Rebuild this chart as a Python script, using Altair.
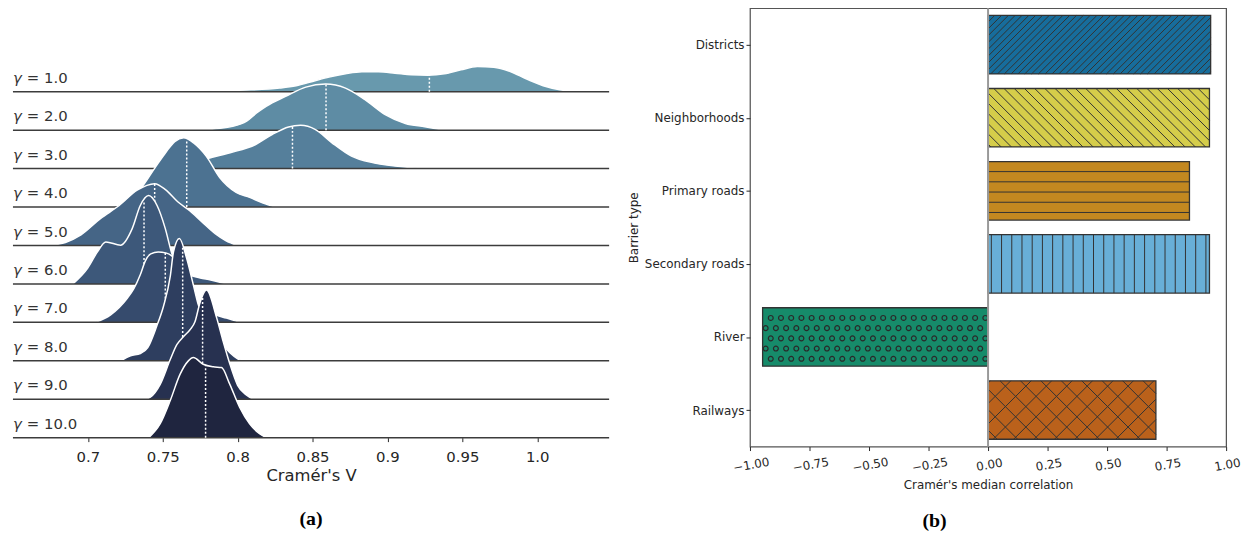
import json
import numpy as np
import pandas as pd
import altair as alt

# ---------------- data: panel (a) ridgeline ----------------
GAMMAS = [1.0, 2.0, 3.0, 4.0, 5.0, 6.0, 7.0, 8.0, 9.0, 10.0]

V1 = [0.765, 0.784, 0.806, 0.828, 0.839, 0.850, 0.861, 0.872, 0.883, 0.894, 0.905,
      0.916, 0.927, 0.938, 0.949, 0.960, 0.971, 0.982, 0.993, 1.004, 1.015, 1.027]
D1 = [0.0, 1.0, 1.7, 3.7, 6.0, 10.3, 14.7, 18.0, 20.0, 20.0, 18.7,
      17.0, 16.7, 18.0, 22.0, 25.3, 24.7, 20.3, 12.7, 6.0, 2.0, 0.0]

V2 = [0.770, 0.783, 0.795, 0.806, 0.8124, 0.819, 0.832, 0.8455, 0.8587, 0.872, 0.885,
      0.8985, 0.912, 0.925, 0.938]
D2 = [0.0, 1.0, 3.3, 9.0, 17.0, 24.0, 34.0, 43.4, 46.4, 42.4, 30.7,
      15.7, 6.7, 3.4, 0.0]

V3 = [0.750, 0.765, 0.782, 0.795, 0.812, 0.823, 0.834, 0.842, 0.852, 0.863, 0.876,
      0.890, 0.905, 0.925]
D3 = [0.0, 5.0, 11.0, 16.0, 24.3, 34.3, 42.0, 43.6, 39.3, 26.0, 12.6,
      6.0, 2.6, 0.0]

V4 = [0.715, 0.725, 0.735, 0.745, 0.752, 0.758, 0.764, 0.771, 0.779, 0.788, 0.799,
      0.808, 0.817, 0.825]
D4 = [0.0, 5.0, 18.0, 40.0, 55.0, 66.0, 69.7, 64.0, 51.3, 29.7, 14.7,
      9.7, 4.0, 0.0]

V5 = [0.675, 0.685, 0.6954, 0.7086, 0.7207, 0.7329, 0.7446, 0.752, 0.760, 0.768, 0.776,
      0.785, 0.792, 0.800]
D5 = [0.0, 3.0, 10.7, 27.3, 40.0, 55.7, 62.3, 56.0, 44.0, 35.0, 24.0,
      12.0, 5.0, 0.0]

V6 = [0.690, 0.6998, 0.7064, 0.712, 0.7219, 0.7296, 0.735, 0.7406, 0.7462, 0.7517, 0.756,
      0.762, 0.768, 0.775, 0.782, 0.790, 0.795]
D6 = [0.0, 15.7, 32.3, 42.3, 39.0, 55.7, 79.0, 89.0, 79.0, 55.7, 31.0,
      14.0, 9.0, 6.0, 4.0, 1.0, 0.0]

V7 = [0.705, 0.7152, 0.7263, 0.7307, 0.735, 0.7384, 0.742, 0.747, 0.752, 0.756, 0.760,
      0.765, 0.770, 0.775, 0.779, 0.786, 0.7925, 0.8013]
D7 = [0.0, 7.6, 24.3, 34.0, 48.0, 62.0, 69.0, 71.0, 70.0, 67.0, 60.0,
      45.0, 28.0, 17.0, 11.0, 7.0, 4.3, 0.0]

V8 = [0.722, 0.7285, 0.735, 0.740, 0.746, 0.7505, 0.755, 0.7572, 0.7611, 0.766, 0.7704,
      0.7737, 0.778, 0.782, 0.786, 0.790, 0.795, 0.800, 0.803]
D8 = [0.0, 5.0, 7.3, 13.3, 35.0, 55.0, 85.0, 110.0, 123.3, 103.0, 76.6,
      56.6, 40.0, 30.0, 22.0, 16.0, 8.0, 2.0, 0.0]

V9 = [0.739, 0.7417, 0.7483, 0.755, 0.7594, 0.7638, 0.7682, 0.7715, 0.7748, 0.7792, 0.786,
      0.790, 0.7947, 0.800, 0.806, 0.810]
D9 = [0.0, 2.0, 15.0, 40.0, 55.0, 63.0, 70.0, 78.0, 97.0, 110.0, 82.0,
      60.0, 36.0, 14.0, 4.0, 0.0]

V10 = [0.7406, 0.7483, 0.755, 0.7616, 0.7671, 0.7704, 0.777, 0.7837, 0.7892, 0.7947, 0.8013,
       0.808, 0.8146, 0.819]
D10 = [0.0, 14.0, 37.4, 64.0, 77.4, 80.7, 74.0, 71.4, 70.7, 54.0, 30.7,
       14.0, 4.0, 0.0]

MEDIANS = [0.928, 0.859, 0.8366, 0.766, 0.7446, 0.7375, 0.7517, 0.7633, 0.7766, 0.7786]
X_TICKS_A = [0.7, 0.75, 0.8, 0.85, 0.9, 0.95, 1.0]

# ---------------- data: panel (b) bars ----------------
BARRIERS = ["Districts", "Neighborhoods", "Primary roads", "Secondary roads", "River", "Railways"]
CORR = [0.935, 0.93, 0.846, 0.93, -0.947, 0.705]
HATCHES = ["///", "\\\\", "-", "|", "o", "x"]
BAR_COLORS = ["#176d9c", "#d5cd4a", "#c38820", "#68afd7", "#168b6a", "#ba611b"]
X_TICKS_B = [-1.0, -0.75, -0.5, -0.25, 0.0, 0.25, 0.5, 0.75, 1.0]

FONT = "DejaVu Sans"
TXT = "#262626"


def cubehelix_hex(x, start=0.0, rot=-0.25, hue=0.8):
    a = hue * x * (1 - x) / 2
    phi = 2 * np.pi * (start / 3 + rot * x)
    c, s = np.cos(phi), np.sin(phi)
    r = x + a * (-0.14861 * c + 1.78277 * s)
    g = x + a * (-0.29227 * c - 0.90649 * s)
    b = x + a * (1.97294 * c)
    return "#" + "".join("%02x" % int(round(255 * min(1, max(0, t)))) for t in (r, g, b))


RIDGE_COLORS = [cubehelix_hex(t) for t in np.linspace(0.55, 0.15, len(GAMMAS))]

# ---------------- panel (a) ----------------
W_L, H_L = 601, 433
X_DOM = [0.65, 1.048]
STEP = 38.75

xs = alt.Scale(domain=X_DOM, nice=False, zero=False)
ys = alt.Scale(domain=[0, H_L], nice=False, zero=False)
x_axis_a = alt.Axis(values=X_TICKS_A,
                    labelExpr="datum.value == 1 ? '1.0' : format(datum.value, '.2~f')",
                    domain=False, grid=False, ticks=True, tickSize=4, tickColor=TXT,
                    labelFont=FONT, labelFontSize=15, labelColor=TXT, labelPadding=8,
                    labelFlush=False, labelOverlap=False,
                    title="Cramér's V", titleFont=FONT, titleFontSize=16.5,
                    titleFontWeight="normal", titleColor=TXT, titlePadding=3)


def XA(f):
    return alt.X(f, type="quantitative", scale=xs, axis=x_axis_a)


def YA(f):
    return alt.Y(f, type="quantitative", scale=ys, axis=None)


curves = [(V1, D1), (V2, D2), (V3, D3), (V4, D4), (V5, D5),
          (V6, D6), (V7, D7), (V8, D8), (V9, D9), (V10, D10)]

layers = []
n = len(GAMMAS)
for i, ((v, d), med, col) in enumerate(zip(curves, MEDIANS, RIDGE_COLORS)):
    base = (n - 1 - i) * STEP
    df = pd.DataFrame({"v": v, "top": [base + h for h in d], "bot": [base] * len(v)})
    layers.append(alt.Chart(df).mark_area(color=col, interpolate="monotone", opacity=1)
                  .encode(x=XA("v"), y=YA("top"), y2=alt.Y2("bot")))
    layers.append(alt.Chart(df).mark_line(color="white", strokeWidth=1.5, interpolate="monotone")
                  .encode(x=XA("v"), y=YA("top")))
    bl = pd.DataFrame({"a": [X_DOM[0]], "b": [X_DOM[1]], "y": [base]})
    layers.append(alt.Chart(bl).mark_rule(color="#3c3c3c", strokeWidth=1.5)
                  .encode(x=XA("a"), x2=alt.X2("b"), y=YA("y")))
    mh = float(np.interp(med, v, d))
    md = pd.DataFrame({"m": [med], "y": [base], "y2": [base + mh]})
    layers.append(alt.Chart(md).mark_rule(color="white", strokeWidth=1.5, strokeDash=[2, 2])
                  .encode(x=XA("m"), y=YA("y"), y2=alt.Y2("y2")))

lab = pd.DataFrame({
    "x": [X_DOM[0]] * n,
    "y": [(n - 1 - i) * STEP for i in range(n)],
    "g": ["γ"] * n,
    "t": ["= %.1f" % g for g in GAMMAS],
})
layers.append(alt.Chart(lab).mark_text(align="left", baseline="alphabetic", dy=-9, font=FONT,
                                       fontSize=15, fontStyle="italic", color="#333333")
              .encode(x=XA("x"), y=YA("y"), text="g:N"))
layers.append(alt.Chart(lab).mark_text(align="left", baseline="alphabetic", dx=14, dy=-9, font=FONT,
                                       fontSize=15, color="#333333")
              .encode(x=XA("x"), y=YA("y"), text="t:N"))

left = alt.layer(*layers).properties(
    width=W_L, height=H_L,
    title=alt.TitleParams("(a)", orient="bottom", anchor="middle", frame="group",
                          font="Liberation Serif", fontSize=20, fontWeight="bold",
                          color="black", offset=26),
)

# ---------------- panel (b) ----------------
W_R, H_R = 480, 442
xr = alt.Scale(domain=[-1, 1], nice=False, zero=False)
yr = alt.Scale(domain=[-0.5, len(BARRIERS) - 0.5], nice=False, zero=False, reverse=True)

x_axis_b = alt.Axis(values=X_TICKS_B, format=".2f", labelAngle=350, labelAlign="center",
                    labelBaseline="top", domain=False, grid=False, tickSize=4, tickColor=TXT,
                    labelFont=FONT, labelFontSize=12, labelColor=TXT, labelPadding=9,
                    labelFlush=False, labelOverlap=False,
                    title="Cramér's median correlation", titleFont=FONT, titleFontSize=12,
                    titleFontWeight="normal", titleColor=TXT, titlePadding=6)
y_axis_b = alt.Axis(values=list(range(len(BARRIERS))),
                    labelExpr=json.dumps(BARRIERS) + "[datum.value]",
                    domain=False, grid=False, tickSize=4, tickColor=TXT,
                    labelFont=FONT, labelFontSize=12, labelColor=TXT, labelPadding=2,
                    minExtent=100, maxExtent=100,
                    title="Barrier type", titleFont=FONT, titleFontSize=12,
                    titleFontWeight="normal", titleColor=TXT, titlePadding=10)


def XB(f):
    return alt.X(f, type="quantitative", scale=xr, axis=x_axis_b)


def YB(f):
    return alt.Y(f, type="quantitative", scale=yr, axis=y_axis_b)


bars = pd.DataFrame({
    "name": BARRIERS,
    "x0": [0.0] * len(BARRIERS),
    "x1": CORR,
    "y0": [i - 0.4 for i in range(len(BARRIERS))],
    "y1": [i + 0.4 for i in range(len(BARRIERS))],
})

# hatch geometry (matplotlib-like), built in pixel space then mapped back to data
U = 61.8
PXX = W_R / 2.0
PXY = H_R / len(BARRIERS)


def to_data(px, py):
    return px / PXX - 1.0, py / PXY - 0.5


segs = []
dots = []
for i, (val, h) in enumerate(zip(CORR, HATCHES)):
    x0p, x1p = (min(0, val) + 1) * PXX, (max(0, val) + 1) * PXX
    y0p, y1p = (i - 0.4 + 0.5) * PXY, (i + 0.4 + 0.5) * PXY

    def add(ax, ay, bx, by):
        a = to_data(ax, ay)
        b = to_data(bx, by)
        segs.append({"x": a[0], "y": a[1], "x2": b[0], "y2": b[1]})

    def diag(sign, sp):
        if sign > 0:  # "/" : x + y = c
            cs = np.arange(np.floor((x0p + y0p) / sp), np.ceil((x1p + y1p) / sp) + 1) * sp
            for c in cs:
                ya, yb = max(y0p, c - x1p), min(y1p, c - x0p)
                if yb - ya > 0.5:
                    add(c - ya, ya, c - yb, yb)
        else:  # "\" : x - y = c
            cs = np.arange(np.floor((x0p - y1p) / sp), np.ceil((x1p - y0p) / sp) + 1) * sp
            for c in cs:
                ya, yb = max(y0p, x0p - c), min(y1p, x1p - c)
                if yb - ya > 0.5:
                    add(c + ya, ya, c + yb, yb)

    if "/" in h:
        diag(1, 2 * U / (6 * h.count("/")))
    if "\\" in h:
        diag(-1, 2 * U / (6 * h.count("\\")))
    if h == "x":
        diag(1, 2 * U / 6)
        diag(-1, 2 * U / 6)
    if h == "-":
        sp = U / 6
        ph = 0.0
        for yy in np.arange(np.ceil((y0p - ph) / sp), np.floor((y1p - ph) / sp) + 1) * sp + ph:
            if y0p + 1 < yy < y1p - 1:
                add(x0p, yy, x1p, yy)
    if h == "|":
        sp = U / 6
        ph = 6.4
        for xx in np.arange(np.ceil((x0p - ph) / sp), np.floor((x1p - ph) / sp) + 1) * sp + ph:
            if x0p + 1 < xx < x1p - 1:
                add(xx, y0p, xx, y1p)
    if h == "o":
        sp = U / 6
        phy = 3.3
        for r, yy in enumerate(np.arange(0, 40) * sp + phy):
            if not (y0p + 2.5 <= yy <= y1p - 2.5):
                continue
            off = 15.8 - 2 * sp + (sp / 2 if r % 2 == 0 else 0)
            for xx in np.arange(0, 60) * sp + off:
                if x0p + 2.5 <= xx <= x1p - 2.5:
                    dx, dy = to_data(xx, yy)
                    dots.append({"x": dx, "y": dy})

seg_df = pd.DataFrame(segs)
dot_df = pd.DataFrame(dots)

fill = alt.Chart(bars).mark_rect(strokeWidth=0).encode(
    x=XB("x0"), x2=alt.X2("x1"), y=YB("y0"), y2=alt.Y2("y1"),
    color=alt.Color("name:N", scale=alt.Scale(domain=BARRIERS, range=BAR_COLORS), legend=None),
)
hatch = alt.Chart(seg_df).mark_rule(color="#333333", strokeWidth=1).encode(
    x=XB("x"), y=YB("y"), x2=alt.X2("x2"), y2=alt.Y2("y2"))
circ = alt.Chart(dot_df).mark_point(shape="circle", size=24, filled=False, color="#2a2a2a",
                                    strokeWidth=1.2, opacity=1).encode(x=XB("x"), y=YB("y"))
outline = alt.Chart(bars).mark_rect(fillOpacity=0, stroke="#333333", strokeWidth=1.3).encode(
    x=XB("x0"), x2=alt.X2("x1"), y=YB("y0"), y2=alt.Y2("y1"))
zero = alt.Chart(pd.DataFrame({"x": [0.0], "y": [-0.5], "y2": [len(BARRIERS) - 0.5]})).mark_rule(
    color="#999999", strokeWidth=2).encode(x=XB("x"), y=YB("y"), y2=alt.Y2("y2"))

right = alt.layer(fill, hatch, circ, outline, zero).properties(
    width=W_R, height=H_R,
    view=alt.ViewBackground(stroke="#555555", strokeWidth=1.25),
    title=alt.TitleParams("(b)", orient="bottom", anchor="middle", frame="bounds",
                          font="Liberation Serif", fontSize=20, fontWeight="bold",
                          color="black", offset=21),
)

chart = alt.hconcat(left, right, spacing=17).properties(
    padding={"left": 4, "top": -4, "right": 0, "bottom": 0},
    background="white",
).configure_view(strokeWidth=0)

chart.save("out.html", embed_options={"renderer": "svg", "actions": False})
